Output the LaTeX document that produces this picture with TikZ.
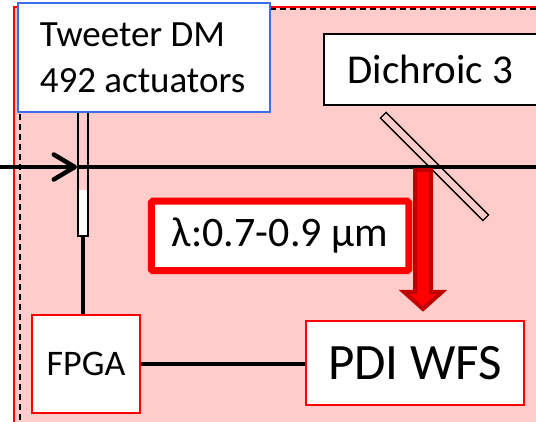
\documentclass[tikz,border=0pt]{standalone}
\usepackage{fontspec}
\setmainfont{Carlito}
\usetikzlibrary{arrows.meta}
\definecolor{panelpink}{RGB}{255,204,204}
\definecolor{arrowdark}{RGB}{192,0,0}
\definecolor{dmblue}{RGB}{60,110,235}
\begin{document}
\begin{tikzpicture}[x=1pt,y=-1pt,
  box/.style={draw, fill=white, inner sep=0pt, line width=1.5pt},
  link/.style={line width=4.5pt},
  beam/.style={line width=4.5pt},
  panelframe/.style={red, line width=2pt},
  paneldash/.style={line width=2pt, dash pattern=on 6pt off 4pt}]
\useasboundingbox (0,0) rectangle (536,422);

% shaded panel with its solid and dashed frames
\fill[panelpink] (14,7) rectangle (545,430);
\draw[panelframe] (14,430) -- (14,7) -- (545,7);
\draw[paneldash] (20,430) -- (20,9.5) -- (545,9.5);

% tweeter deformable mirror (seen edge-on)
\fill[white] (78,190) rectangle (88,236);
\node[draw, line width=1.6pt, inner sep=0pt, minimum width=10pt, minimum height=130pt] (dm) at (83,171) {};

% dichroic plate
\node[draw, line width=1.3pt, inner sep=0pt, minimum width=145pt, minimum height=8pt, rotate=-45] (dichroic) at (434.5,166.5) {};

% optical beam
\coordinate (beamin) at (0,167);
\coordinate (beamtip) at (77,167);
\coordinate (beamout) at (545,167);
\draw[beam, -{Straight Barb[length=21pt, width=25pt, line width=4.5pt, round]}] (beamin) -- (beamtip);
\draw[beam] (beamtip) -- (beamout);

% labelled boxes
\node[box, draw=dmblue, minimum width=252pt, minimum height=109pt, align=left,
      font=\fontsize{37}{46}\selectfont] (tweeter) at (144,57.5) {\hspace*{-3pt}Tweeter DM\\\hspace*{-3pt}492 actuators};
\node[box, minimum width=213pt, minimum height=71pt,
      font=\fontsize{41}{48}\selectfont] (dlabel) at (430.5,69.5) {Dichroic 3};
\node[box, draw=red, line width=7pt, rounded corners=1.5pt, minimum width=257.5pt, minimum height=69.5pt,
      font=\fontsize{42}{48}\selectfont] (band) at (280,236) {λ:0.7-0.9 µm};
\node[box, draw=red, minimum width=108pt, minimum height=98pt,
      font=\fontsize{36}{42}\selectfont] (fpga) at (86,364) {FPGA};
\node[box, draw=red, line width=2pt, minimum width=218pt, minimum height=84pt,
      font=\fontsize{51}{60}\selectfont] (pdi) at (415,363) {PDI WFS};

% light reflected towards the wavefront sensor
\draw[arrowdark, fill=red, line width=4pt, line join=miter]
  (415,170) -- (415,292) -- (404,292) -- (423,309) -- (442,292) -- (431,292) -- (431,170) -- cycle;

% control links
\draw[link] (dm.south) -- (fpga.north -| dm.south);
\draw[link] (fpga.east) -- (fpga.east -| pdi.west);
\end{tikzpicture}
\end{document}
